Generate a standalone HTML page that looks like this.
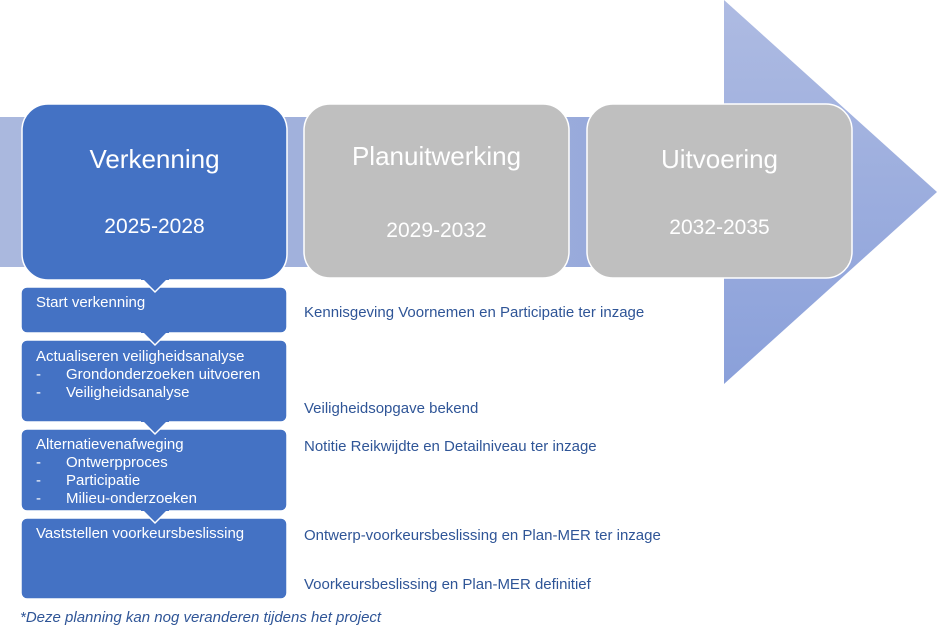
<!DOCTYPE html>
<html><head><meta charset="utf-8"><style>
body{margin:0;width:937px;height:636px;background:#fff;overflow:hidden;font-family:"Liberation Sans",sans-serif}
svg{position:absolute;left:0;top:0}
.t{position:absolute;font-size:15px;color:#2f5597;white-space:nowrap}
.w{position:absolute;color:#fff;font-size:15px;white-space:nowrap;line-height:18px}
</style></head><body>
<svg width="937" height="636">
<defs>
<linearGradient id="band" x1="0" x2="1"><stop offset="0" stop-color="#aab8de"/><stop offset="1" stop-color="#94a7da"/></linearGradient>
<linearGradient id="head" x1="0" y1="0" x2="0" y2="1"><stop offset="0" stop-color="#aebbe2"/><stop offset="1" stop-color="#8aa0da"/></linearGradient>
</defs>
<rect x="0" y="117" width="730" height="150" fill="url(#band)"/>
<polygon points="724,0 937,192 724,384" fill="url(#head)"/>
<rect x="22" y="104" width="265" height="176" rx="26" fill="#4472c4" stroke="#fff" stroke-width="1.5"/>
<rect x="304" y="104" width="265" height="174" rx="26" fill="#bfbfbf" stroke="#fff" stroke-width="1.5"/>
<rect x="587" y="104" width="265" height="174" rx="26" fill="#bfbfbf" stroke="#fff" stroke-width="1.5"/>
<g fill="#4472c4" stroke="#fff" stroke-width="1.5">
<rect x="21" y="287" width="266" height="46" rx="6"/>
<rect x="21" y="340" width="266" height="82" rx="6"/>
<rect x="21" y="429" width="266" height="82" rx="6"/>
<rect x="21" y="518" width="266" height="81" rx="6"/>
</g>
<g fill="#4472c4" stroke="#fff" stroke-width="1.5" stroke-linejoin="miter">
<polyline points="143,280 155,292 167,280"/>
<polyline points="143,333 155,345 167,333"/>
<polyline points="143,422 155,434 167,422"/>
<polyline points="143,511 155,523 167,511"/>
</g>
<g fill="#4472c4">
<rect x="141" y="276" width="28" height="4"/>
<rect x="141" y="329" width="28" height="4"/>
<rect x="141" y="418" width="28" height="4"/>
<rect x="141" y="507" width="28" height="4"/>
</g>
</svg>
<div class="w" style="left:22px;width:265px;text-align:center;top:144px;font-size:26px;line-height:30px">Verkenning</div>
<div class="w" style="left:22px;width:265px;text-align:center;top:214px;font-size:21px;line-height:25px">2025-2028</div>
<div class="w" style="left:304px;width:265px;text-align:center;top:141px;font-size:26px;line-height:30px">Planuitwerking</div>
<div class="w" style="left:304px;width:265px;text-align:center;top:218px;font-size:21px;line-height:25px">2029-2032</div>
<div class="w" style="left:587px;width:265px;text-align:center;top:144px;font-size:26px;line-height:30px">Uitvoering</div>
<div class="w" style="left:587px;width:265px;text-align:center;top:215px;font-size:21px;line-height:25px">2032-2035</div>
<div class="w" style="left:36px;top:294px">Start verkenning</div>
<div class="w" style="left:36px;top:348px">Actualiseren veiligheidsanalyse<br>-&nbsp;&nbsp;&nbsp;&nbsp;&nbsp;&nbsp;Grondonderzoeken uitvoeren<br>-&nbsp;&nbsp;&nbsp;&nbsp;&nbsp;&nbsp;Veiligheidsanalyse</div>
<div class="w" style="left:36px;top:436px">Alternatievenafweging<br>-&nbsp;&nbsp;&nbsp;&nbsp;&nbsp;&nbsp;Ontwerpproces<br>-&nbsp;&nbsp;&nbsp;&nbsp;&nbsp;&nbsp;Participatie<br>-&nbsp;&nbsp;&nbsp;&nbsp;&nbsp;&nbsp;Milieu-onderzoeken</div>
<div class="w" style="left:36px;top:525px">Vaststellen voorkeursbeslissing</div>
<div class="t" style="left:304px;top:304px">Kennisgeving Voornemen en Participatie ter inzage</div>
<div class="t" style="left:304px;top:400px">Veiligheidsopgave bekend</div>
<div class="t" style="left:304px;top:438px">Notitie Reikwijdte en Detailniveau ter inzage</div>
<div class="t" style="left:304px;top:527px">Ontwerp-voorkeursbeslissing en Plan-MER ter inzage</div>
<div class="t" style="left:304px;top:576px">Voorkeursbeslissing en Plan-MER definitief</div>
<div class="t" style="left:20px;top:609px;font-style:italic">*Deze planning kan nog veranderen tijdens het project</div>
</body></html>
